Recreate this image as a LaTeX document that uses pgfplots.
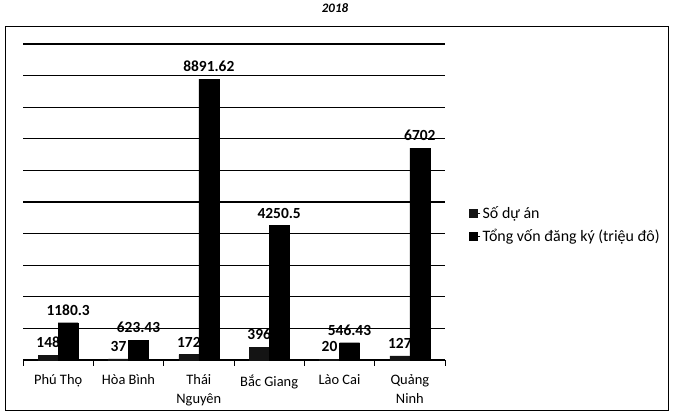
\documentclass[border=0pt]{standalone}
\usepackage{pgfplots}
\pgfplotsset{compat=1.18}
\usepackage{fontspec}
\setmainfont{Carlito}

\begin{document}
\begin{tikzpicture}
\useasboundingbox (0,0) rectangle (673bp,413bp);
% chart frame and title
\draw[line width=0.8bp] (5bp,3bp) rectangle (668bp,387bp);
\node[font=\fontsize{13}{15}\selectfont\bfseries\itshape] at (335bp,405bp) {2018};

\begin{axis}[
  at={(23bp,53bp)}, anchor=south west,
  scale only axis,
  width=422bp, height=316bp,
  ybar=0pt, bar width=20bp,
  xmin=-0.5, xmax=5.5,
  ymin=0, ymax=10000,
  axis x line*=bottom,
  axis y line*=left,
  x axis line style={-, line width=1.2bp},
  y axis line style={draw=none},
  xtick={0,...,5},
  xticklabels={Phú Thọ, Hòa Bình, {Thái\\Nguyên}, Bắc Giang, Lào Cai, {Quảng\\Ninh}},
  xticklabel style={align=center, yshift=-7bp, font=\fontsize{14.5}{19}\selectfont},
  major x tick style={draw=none},
  minor xtick={-0.5,0.5,...,5.5},
  minor tick length=6bp,
  minor x tick style={black, line width=1bp},
  tick align=outside,
  ytick={0,1000,...,10000},
  yticklabels={},
  scaled y ticks=false,
  major y tick style={draw=none},
  ymajorgrids,
  grid style={black, line width=1.1bp},
  clip=false,
  point meta=explicit symbolic,
  nodes near coords,
  every node near coord/.append style={font=\fontsize{15.5}{17}\selectfont\bfseries, yshift=4bp},
  legend style={at={(1.05,0.427)}, anchor=west, draw=none, fill=none,
    font=\fontsize{16}{18}\selectfont, row sep=5bp},
  legend cell align=left,
  legend image code/.code={\path (0bp,0bp) -- (11bp,0bp);
    \fill[#1] (0bp,-4bp) rectangle (8bp,4bp);},
]
\addplot[fill=black!92, draw=black!92] coordinates {
  (0,148) [148] (1,37) [37] (2,172) [172] (3,396) [396] (4,20) [20] (5,127) [127]
};
\addplot[fill=black, draw=black] coordinates {
  (0,1180.3) [1180.3] (1,623.43) [623.43] (2,8891.62) [8891.62]
  (3,4250.5) [4250.5] (4,546.43) [546.43] (5,6702) [6702]
};
\legend{Số dự án, Tổng vốn đăng ký (triệu đô)}
\end{axis}
\end{tikzpicture}
\end{document}
